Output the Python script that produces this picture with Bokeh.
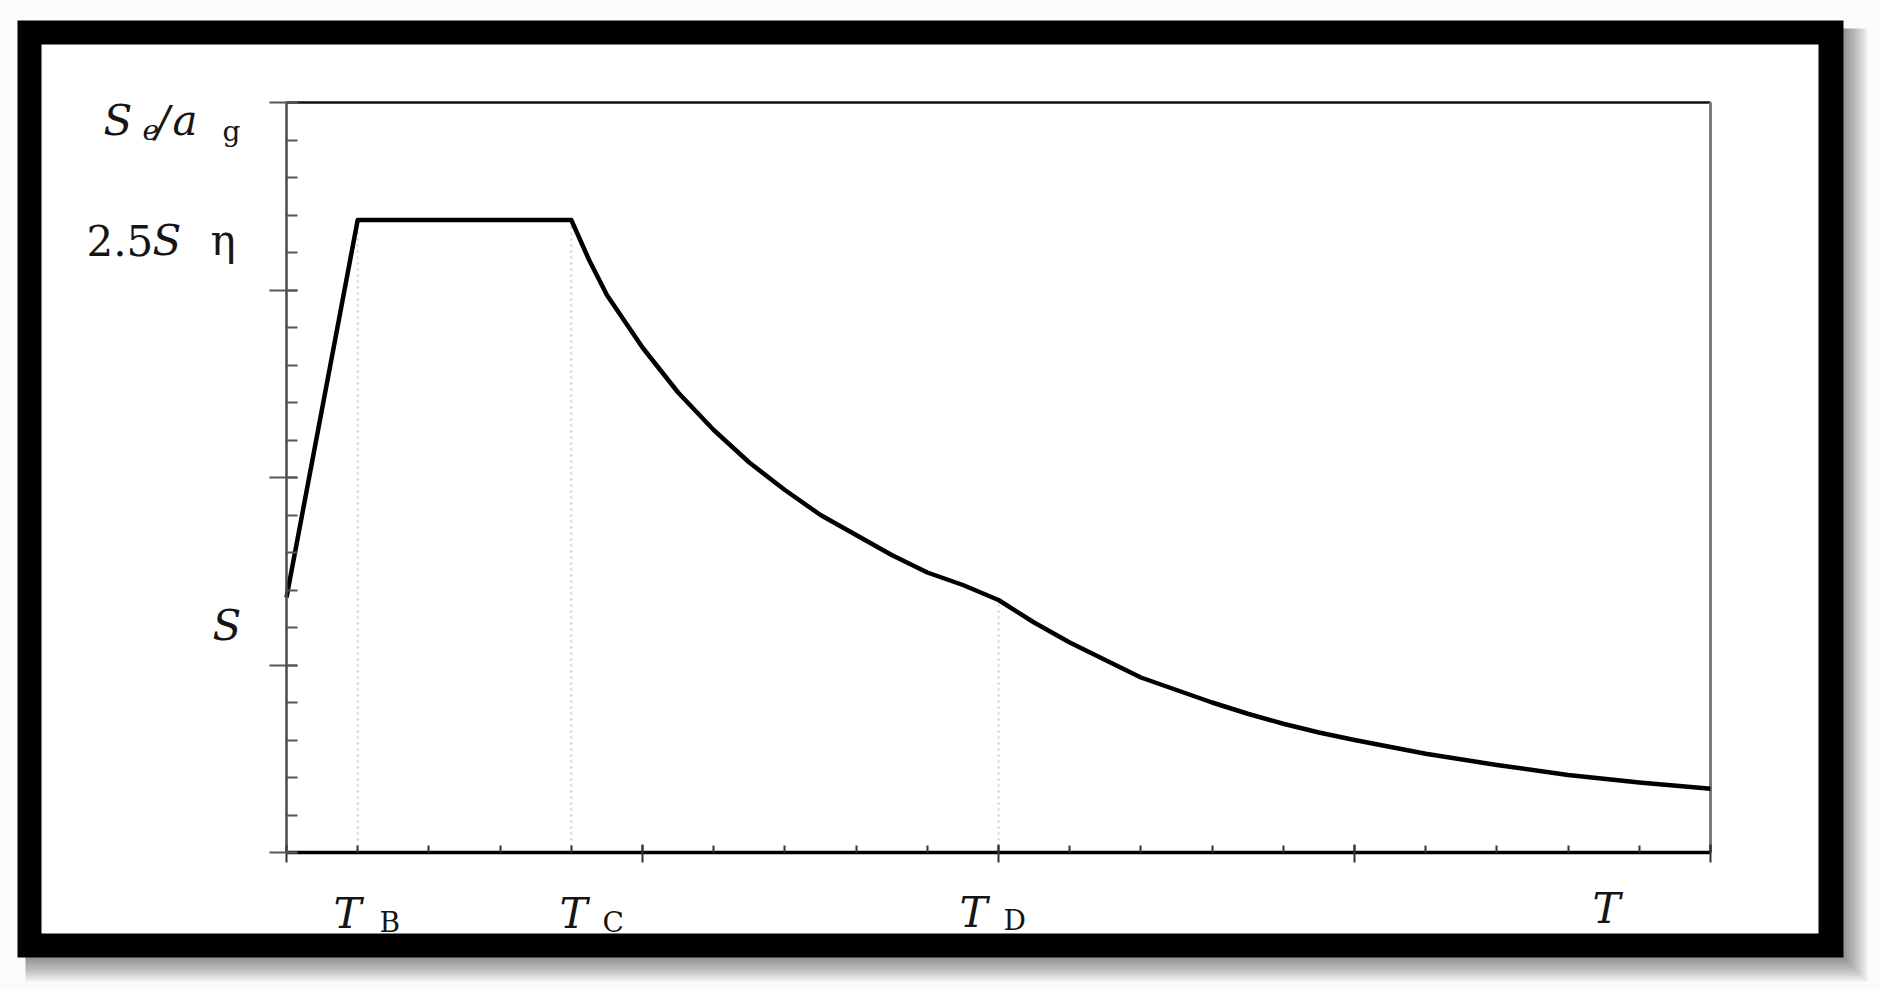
from bokeh.plotting import figure
from bokeh.models import Range1d, LinearAxis, FixedTicker, CustomJSTickFormatter
from bokeh.core.properties import value
from bokeh.embed import file_html
from bokeh.resources import INLINE

# ---------------- data ----------------
period = [0.0, 0.2, 0.8, 0.85, 0.9, 1.0, 1.1, 1.2, 1.3, 1.4, 1.5, 1.6, 1.7, 1.8,
          1.9, 2.0, 2.1, 2.2, 2.3, 2.4, 2.5, 2.6, 2.7, 2.8, 2.9, 3.0, 3.2, 3.4,
          3.6, 3.8, 4.0]
spectrum = [1.02, 2.53, 2.53, 2.37, 2.23, 2.02, 1.84, 1.69, 1.56, 1.45, 1.35,
            1.27, 1.19, 1.12, 1.07, 1.01, 0.92, 0.84, 0.77, 0.70, 0.65, 0.60,
            0.555, 0.515, 0.48, 0.45, 0.395, 0.35, 0.31, 0.28, 0.255]
corner_periods = [0.2, 0.8, 2.0]          # T_B, T_C, T_D
corner_values = [2.53, 2.53, 1.01]
x_major_ticks = [0, 1, 2, 3, 4]
x_minor_ticks = [round(i * 0.2, 2) for i in range(21)]
y_major_ticks = [0, 0.75, 1.5, 2.25, 3.0]
y_minor_ticks = [round(i * 0.15, 2) for i in range(21)]
x_max = 4.0
y_max = 3.0

# ---------------- layout (page pixels) ----------------
W, H = 1880, 990
ORIGIN = 0                        # page position of the canvas corner
X0_PX, X_SCALE = 286.0, 356.0     # page x of T=0, px per unit
Y0_PX, Y_SCALE = 852.0, 250.0     # page y of value 0, px per unit


def px2x(px):
    return (px - X0_PX) / X_SCALE


def px2y(py):
    return (Y0_PX - py) / Y_SCALE


p = figure(width=W, height=H, output_backend="svg", toolbar_location=None,
           x_axis_location=None, y_axis_location=None,
           x_range=Range1d(px2x(ORIGIN), px2x(ORIGIN + W)),
           y_range=Range1d(px2y(ORIGIN + H), px2y(ORIGIN)))
p.min_border = 0
p.outline_line_color = None
p.background_fill_color = "#fbfbfb"
p.border_fill_color = "#fbfbfb"
for g in p.grid:
    g.visible = False

# ---------- picture frame with drop shadow ----------
for k in range(1, 9):
    p.quad(left=[px2x(25)], right=[px2x(1843 + 3 * k)],
           top=[px2y(28)], bottom=[px2y(957 + 3 * k)],
           fill_color="black", fill_alpha=0.06, line_color=None)
p.quad(left=[px2x(17)], right=[px2x(1843)], top=[px2y(20)], bottom=[px2y(957)],
       fill_color="black", line_color=None)
p.quad(left=[px2x(41)], right=[px2x(1818)], top=[px2y(44)], bottom=[px2y(933)],
       fill_color="white", line_color=None)

# ---------- faint dotted verticals at the corner periods ----------
p.segment(x0=corner_periods, y0=[0] * 3, x1=corner_periods, y1=corner_values,
          line_color="#cfcfcf", line_width=2, line_dash="2 4")

# ---------- top and right border of the chart box ----------
p.line(x=[0, x_max], y=[y_max, y_max], line_color="#111111", line_width=2.5)
p.line(x=[x_max, x_max], y=[0, y_max], line_color="#7a7a7a", line_width=3)

# ---------- spectrum curve ----------
p.line(x=period, y=spectrum, line_color="black", line_width=4.5,
       line_join="round")

# ---------- axes ----------
xaxis = LinearAxis(fixed_location=0, bounds=(0, x_max),
                   ticker=FixedTicker(ticks=x_major_ticks, minor_ticks=x_minor_ticks),
                   formatter=CustomJSTickFormatter(code="return ''"))
xaxis.axis_line_color = "black"
xaxis.axis_line_width = 3.5
xaxis.major_tick_in = 8
xaxis.major_tick_out = 10
xaxis.minor_tick_in = 7
xaxis.minor_tick_out = 0
xaxis.major_tick_line_color = "#333333"
xaxis.minor_tick_line_color = "#333333"
xaxis.major_tick_line_width = 2
xaxis.minor_tick_line_width = 2
p.add_layout(xaxis, "below")

yaxis = LinearAxis(fixed_location=0, bounds=(0, y_max),
                   ticker=FixedTicker(ticks=y_major_ticks, minor_ticks=y_minor_ticks),
                   formatter=CustomJSTickFormatter(code="return ''"))
yaxis.axis_line_color = "#4a4a4a"
yaxis.axis_line_width = 2.5
yaxis.major_tick_in = 11
yaxis.major_tick_out = 17
yaxis.minor_tick_in = 11
yaxis.minor_tick_out = 0
yaxis.major_tick_line_color = "#555555"
yaxis.minor_tick_line_color = "#555555"
yaxis.major_tick_line_width = 2
yaxis.minor_tick_line_width = 2
p.add_layout(yaxis, "left")

# ---------- texts ----------
FONT = value("DejaVu Serif")
BIG, SMALL = value("42px"), value("28px")


def put(items, size, style):
    p.text(x=[px2x(a) for a, _, _ in items], y=[px2y(b) for _, b, _ in items],
           text=[t for _, _, t in items], text_font=FONT, text_font_size=size,
           text_font_style=style, text_align="left", text_baseline="alphabetic",
           text_color="#151515")


put([(103, 120, "S"), (155, 121, "/"), (172, 120, "a"),
     (152, 240, "S"), (212, 625, "S"),
     (333, 913, "T"), (559, 913, "T"), (959, 912, "T"), (1592, 908, "T")],
    BIG, "italic")
put([(142, 129, "e")], SMALL, "italic")
put([(86, 240, "2.5"), (210, 240, "η")], BIG, "normal")
put([(222, 131, "g"), (379, 922, "B"), (602, 922, "C"), (1003, 920, "D")],
    SMALL, "normal")

open("out.html", "w").write(file_html(p, INLINE))
